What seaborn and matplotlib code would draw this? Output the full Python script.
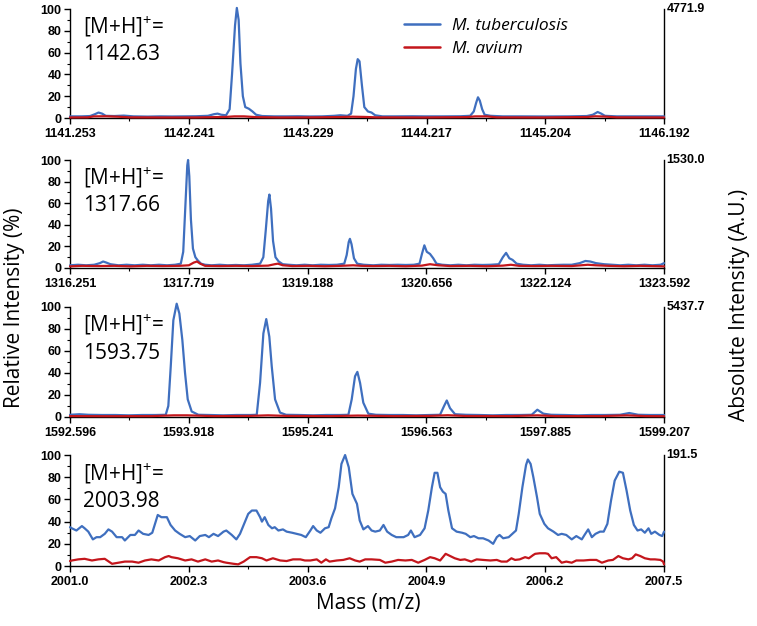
import pandas as pd
import seaborn as sns
import matplotlib.pyplot as plt
from matplotlib.lines import Line2D

# MASS SPECTRA (m/z, relative intensity %)

# panel 1 - [M+H]+ 1142.63
p1_tb_mz = [1141.253, 1141.35, 1141.42, 1141.46, 1141.49, 1141.52, 1141.55, 1141.62, 1141.70, 1141.78,
            1141.90, 1142.00, 1142.10, 1142.20, 1142.30, 1142.40, 1142.45, 1142.48, 1142.51, 1142.55,
            1142.58, 1142.60, 1142.625, 1142.64, 1142.655, 1142.67, 1142.69, 1142.71, 1142.74, 1142.77,
            1142.80, 1142.85, 1142.95, 1143.05, 1143.15, 1143.25, 1143.35, 1143.45, 1143.50, 1143.56,
            1143.59, 1143.61, 1143.63, 1143.645, 1143.66, 1143.68, 1143.70, 1143.73, 1143.76, 1143.79,
            1143.85, 1143.95, 1144.10, 1144.20, 1144.35, 1144.50, 1144.58, 1144.61, 1144.63, 1144.645,
            1144.66, 1144.68, 1144.70, 1144.75, 1144.85, 1145.00, 1145.20, 1145.40, 1145.55, 1145.60,
            1145.64, 1145.67, 1145.70, 1145.80, 1146.00, 1146.192]
p1_tb_int = [1.5, 1.5, 1.8, 3.5, 5, 4, 2, 1.8, 2.2, 1.5,
             1.3, 1.5, 1.4, 1.5, 1.6, 2, 3.5, 4, 3, 2.5,
             8, 40, 85, 101, 90, 50, 20, 10, 8.5, 6,
             3, 1.8, 1.5, 1.5, 1.6, 1.4, 1.5, 2, 2.5, 2,
             4, 20, 45, 54, 52, 30, 10, 6, 5, 2.5,
             1.5, 1.5, 1.6, 1.5, 1.5, 1.6, 2, 6, 14, 19,
             16, 8, 3, 2, 1.5, 1.5, 1.4, 1.5, 1.8, 3,
             5.5, 4, 2, 1.5, 1.5, 1.5]
p1_av_mz = [1141.253, 1141.40, 1141.45, 1141.55, 1141.65, 1141.75, 1142.00, 1142.30, 1142.45, 1142.55,
            1142.62, 1142.70, 1142.80, 1143.00, 1143.30, 1143.50, 1143.60, 1143.70, 1143.80, 1144.20,
            1144.55, 1144.62, 1144.72, 1144.80, 1145.20, 1145.55, 1145.62, 1145.70, 1145.80, 1146.192]
p1_av_int = [0.5, 0.6, 1.5, 1.6, 1.2, 0.6, 0.5, 0.5, 0.8, 1.0,
             1.5, 1.5, 0.8, 0.5, 0.6, 0.9, 1.2, 1.0, 0.6, 0.5,
             0.8, 1.5, 1.5, 0.6, 0.5, 0.9, 1.6, 1.3, 0.6, 0.5]

# panel 2 - [M+H]+ 1317.66
p2_tb_mz = [1316.251, 1316.35, 1316.45, 1316.55, 1316.62, 1316.66, 1316.70, 1316.75, 1316.85, 1316.95,
            1317.05, 1317.15, 1317.25, 1317.35, 1317.45, 1317.55, 1317.62, 1317.65, 1317.675, 1317.70,
            1317.71, 1317.725, 1317.745, 1317.77, 1317.80, 1317.83, 1317.87, 1317.92, 1318.00, 1318.10,
            1318.20, 1318.30, 1318.40, 1318.50, 1318.60, 1318.64, 1318.67, 1318.70, 1318.715, 1318.735,
            1318.76, 1318.79, 1318.83, 1318.88, 1318.95, 1319.05, 1319.15, 1319.25, 1319.35, 1319.45,
            1319.55, 1319.64, 1319.67, 1319.695, 1319.71, 1319.73, 1319.76, 1319.80, 1319.88, 1320.00,
            1320.10, 1320.20, 1320.30, 1320.40, 1320.50, 1320.57, 1320.60, 1320.63, 1320.66, 1320.70,
            1320.74, 1320.78, 1320.85, 1320.95, 1321.05, 1321.15, 1321.25, 1321.35, 1321.45, 1321.55,
            1321.60, 1321.64, 1321.68, 1321.72, 1321.77, 1321.85, 1321.95, 1322.05, 1322.15, 1322.25,
            1322.35, 1322.45, 1322.55, 1322.62, 1322.68, 1322.75, 1322.85, 1322.95, 1323.05, 1323.15,
            1323.25, 1323.35, 1323.45, 1323.55, 1323.592]
p2_tb_int = [2.5, 3, 2.5, 3, 4.5, 6, 5, 3.5, 2.5, 3,
             2.5, 3, 2.5, 3, 2.5, 3, 4, 15, 55, 95,
             100, 85, 45, 18, 10, 7, 4, 3, 2.5, 3,
             2.5, 2.8, 2.5, 3, 4, 10, 35, 62, 68, 55,
             25, 10, 6, 3.5, 3, 2.5, 3, 2.5, 3, 2.8,
             3, 4, 12, 24, 27, 22, 9, 4, 3, 2.5,
             3, 2.8, 3, 2.8, 3, 4, 13, 21, 15, 13,
             9, 4, 3, 2.5, 3, 2.5, 3, 2.8, 3, 3.5,
             10, 14, 9, 7.5, 4, 3, 2.5, 3, 2.5, 2.8,
             3, 3, 4.5, 6.5, 6, 4.5, 3.5, 3, 2.5, 3,
             2.5, 3, 2.5, 3, 4.5]
p2_av_mz = [1316.251, 1316.40, 1316.60, 1316.80, 1317.00, 1317.20, 1317.40, 1317.60, 1317.72, 1317.78,
            1317.82, 1317.86, 1317.92, 1318.10, 1318.30, 1318.50, 1318.70, 1318.78, 1318.82, 1318.88,
            1319.00, 1319.20, 1319.40, 1319.60, 1319.75, 1319.85, 1320.00, 1320.20, 1320.40, 1320.60,
            1320.70, 1320.80, 1320.95, 1321.20, 1321.40, 1321.60, 1321.70, 1321.80, 1322.00, 1322.20,
            1322.45, 1322.65, 1322.75, 1322.90, 1323.10, 1323.30, 1323.592]
p2_av_int = [1.5, 2, 1.8, 2, 1.5, 2, 1.8, 2, 2.5, 5,
             6, 4, 2, 1.8, 2, 1.8, 2.2, 3.5, 4, 2.5,
             1.8, 2, 1.6, 2, 2.5, 2, 1.8, 2, 1.6, 2.2,
             3.5, 2.5, 1.8, 2, 1.6, 2.2, 3, 2, 1.8, 2,
             1.8, 3, 2.5, 2, 1.6, 2, 1.5]

# panel 3 - [M+H]+ 1593.75
p3_tb_mz = [1592.596, 1592.70, 1592.80, 1592.95, 1593.10, 1593.25, 1593.40, 1593.55, 1593.661, 1593.690,
            1593.717, 1593.746, 1593.783, 1593.813, 1593.846, 1593.876, 1593.906, 1593.950, 1594.024, 1594.15,
            1594.30, 1594.45, 1594.60, 1594.674, 1594.711, 1594.748, 1594.780, 1594.814, 1594.841, 1594.878,
            1594.933, 1595.00, 1595.15, 1595.30, 1595.45, 1595.60, 1595.694, 1595.731, 1595.768, 1595.794,
            1595.824, 1595.860, 1595.916, 1596.00, 1596.15, 1596.30, 1596.45, 1596.60, 1596.714, 1596.759,
            1596.789, 1596.825, 1596.881, 1597.00, 1597.15, 1597.30, 1597.45, 1597.60, 1597.734, 1597.797,
            1597.864, 1597.95, 1598.10, 1598.25, 1598.40, 1598.55, 1598.717, 1598.82, 1598.92, 1599.05,
            1599.207]
p3_tb_int = [2, 2.5, 2, 1.8, 1.8, 1.5, 1.8, 1.8, 2, 10,
             46, 88, 103, 94, 70, 40, 16, 5, 2, 1.8,
             1.5, 1.8, 1.8, 2, 31, 76, 89, 73, 46, 16,
             4, 2, 1.8, 1.5, 1.8, 1.8, 2, 16, 37, 41,
             31, 13, 3, 2, 1.8, 1.8, 1.5, 1.8, 2, 10,
             15, 8, 2.5, 2, 1.8, 1.5, 1.8, 1.8, 2, 6.6,
             3, 2, 1.8, 1.5, 1.8, 1.8, 2, 3.6, 2, 1.8,
             1.8]
p3_av_mz = [1592.596, 1593.00, 1593.50, 1593.75, 1593.90, 1594.20, 1594.60, 1594.80, 1595.00, 1595.50,
            1595.80, 1596.20, 1596.60, 1596.80, 1597.00, 1597.50, 1597.80, 1598.00, 1598.50, 1598.80,
            1599.00, 1599.207]
p3_av_int = [0.8, 0.7, 0.8, 1.5, 1.5, 0.8, 1.0, 1.5, 1.0, 0.8,
             1.3, 0.8, 1.0, 1.6, 0.9, 0.8, 1.5, 0.8, 0.8, 1.5,
             0.8, 0.7]

# panel 4 - [M+H]+ 2003.98
p4_tb_mz = [2001.00, 2001.02, 2001.07, 2001.13, 2001.16, 2001.20, 2001.25, 2001.29, 2001.33, 2001.38,
            2001.42, 2001.46, 2001.51, 2001.57, 2001.60, 2001.66, 2001.71, 2001.75, 2001.80, 2001.86,
            2001.90, 2001.96, 2002.00, 2002.06, 2002.10, 2002.15, 2002.20, 2002.26, 2002.31, 2002.37,
            2002.42, 2002.48, 2002.52, 2002.57, 2002.62, 2002.68, 2002.71, 2002.77, 2002.82, 2002.86,
            2002.90, 2002.95, 2002.99, 2003.04, 2003.08, 2003.10, 2003.13, 2003.17, 2003.21, 2003.24,
            2003.28, 2003.33, 2003.37, 2003.43, 2003.48, 2003.53, 2003.58, 2003.63, 2003.66, 2003.70,
            2003.74, 2003.79, 2003.83, 2003.86, 2003.90, 2003.94, 2003.97, 2004.01, 2004.05, 2004.09,
            2004.14, 2004.17, 2004.21, 2004.26, 2004.30, 2004.34, 2004.39, 2004.43, 2004.47, 2004.52,
            2004.57, 2004.65, 2004.70, 2004.73, 2004.77, 2004.83, 2004.88, 2004.92, 2004.96, 2004.99,
            2005.02, 2005.05, 2005.08, 2005.11, 2005.14, 2005.18, 2005.23, 2005.29, 2005.33, 2005.38,
            2005.42, 2005.47, 2005.52, 2005.58, 2005.63, 2005.67, 2005.70, 2005.74, 2005.80, 2005.84,
            2005.88, 2005.91, 2005.95, 2005.99, 2006.01, 2006.04, 2006.07, 2006.11, 2006.14, 2006.19,
            2006.23, 2006.29, 2006.34, 2006.38, 2006.43, 2006.49, 2006.54, 2006.60, 2006.63, 2006.67,
            2006.71, 2006.75, 2006.80, 2006.84, 2006.88, 2006.92, 2006.96, 2007.01, 2007.05, 2007.09,
            2007.13, 2007.17, 2007.21, 2007.25, 2007.29, 2007.33, 2007.36, 2007.40, 2007.45, 2007.48,
            2007.50]
p4_tb_int = [35, 34, 32, 36, 34, 31, 24, 26, 26, 29,
             33, 31, 26, 26, 23, 28, 28, 32, 29, 28,
             30, 46, 44, 44, 37, 32, 29, 26, 27, 23,
             27, 28, 26, 29, 27, 31, 32, 28, 24, 29,
             37, 47, 50, 50, 44, 40, 44, 37, 34, 35,
             32, 33, 31, 30, 29, 28, 26, 32, 36, 32,
             30, 34, 35, 43, 52, 71, 92, 100, 89, 65,
             56, 41, 33, 36, 32, 31, 32, 37, 31, 28,
             26, 26, 28, 32, 26, 28, 34, 50, 71, 84,
             84, 71, 67, 65, 50, 34, 31, 30, 29, 26,
             27, 25, 25, 23, 20, 26, 28, 25, 26, 29,
             32, 47, 71, 91, 96, 92, 80, 62, 47, 38,
             34, 31, 28, 29, 28, 24, 27, 24, 28, 33,
             26, 29, 31, 31, 38, 59, 77, 85, 84, 68,
             50, 37, 32, 33, 30, 34, 29, 31, 28, 27,
             31]
p4_av_mz = [2001.00, 2001.02, 2001.09, 2001.16, 2001.24, 2001.31, 2001.38, 2001.46, 2001.53, 2001.60,
            2001.68, 2001.75, 2001.82, 2001.89, 2001.97, 2002.04, 2002.08, 2002.11, 2002.18, 2002.26,
            2002.33, 2002.40, 2002.48, 2002.55, 2002.62, 2002.68, 2002.71, 2002.79, 2002.84, 2002.90,
            2002.97, 2003.04, 2003.10, 2003.15, 2003.22, 2003.30, 2003.37, 2003.44, 2003.52, 2003.57,
            2003.63, 2003.70, 2003.75, 2003.80, 2003.84, 2003.92, 2003.99, 2004.06, 2004.12, 2004.17,
            2004.23, 2004.30, 2004.39, 2004.45, 2004.52, 2004.59, 2004.67, 2004.74, 2004.81, 2004.88,
            2004.94, 2004.99, 2005.05, 2005.11, 2005.16, 2005.21, 2005.27, 2005.32, 2005.39, 2005.45,
            2005.52, 2005.60, 2005.67, 2005.72, 2005.78, 2005.83, 2005.87, 2005.92, 2005.98, 2006.02,
            2006.07, 2006.09, 2006.14, 2006.20, 2006.23, 2006.27, 2006.32, 2006.38, 2006.43, 2006.49,
            2006.54, 2006.62, 2006.69, 2006.76, 2006.82, 2006.89, 2006.94, 2007.00, 2007.05, 2007.11,
            2007.15, 2007.19, 2007.24, 2007.29, 2007.35, 2007.40, 2007.46, 2007.49, 2007.50]
p4_av_int = [4.5, 5, 6, 6.5, 5, 6, 6.5, 2, 3, 4,
             4, 3, 5, 6, 5, 8, 9, 8, 7, 5,
             6, 4, 6, 4, 5, 3.5, 3, 2, 1.5, 4,
             8, 8, 7, 5, 7, 5, 4.5, 6, 6, 5,
             5, 6, 3, 6, 4, 5, 5.5, 7, 5, 4,
             6, 6, 5.5, 3, 4, 5.5, 5, 5.5, 3, 5.5,
             8, 7, 5, 11, 9, 7, 5.5, 6, 4, 6,
             5.5, 5, 5.5, 4, 4, 7, 5.5, 6, 8, 7,
             10, 11, 11.5, 11.5, 11, 7, 8, 3, 4, 3,
             5, 5, 5.5, 5.5, 3, 5, 5.5, 9, 7, 6,
             7, 10.5, 9, 7, 6, 6, 5.5, 4, 1.5]

# ETIQUETAS
ion_labels = ['1142.63', '1317.66', '1593.75', '2003.98']
abs_labels = ['4771.9', '1530.0', '5437.7', '191.5']
xtick_labels = [
    ['1141.253', '1142.241', '1143.229', '1144.217', '1145.204', '1146.192'],
    ['1316.251', '1317.719', '1319.188', '1320.656', '1322.124', '1323.592'],
    ['1592.596', '1593.918', '1595.241', '1596.563', '1597.885', '1599.207'],
    ['2001.0', '2002.3', '2003.6', '2004.9', '2006.2', '2007.5'],
]
ytick_labels = ['0', '20', '40', '60', '80', '100']
series_names = ['M. tuberculosis', 'M. avium']

tb_color = '#3f6fbf'
av_color = '#c4161c'

sns.set_style('ticks')
plt.rcParams['font.family'] = ['Open Sans', 'DejaVu Sans']
plt.rcParams['mathtext.fontset'] = 'custom'
plt.rcParams['mathtext.rm'] = 'Open Sans'
plt.rcParams['mathtext.default'] = 'regular'
plt.rcParams['text.color'] = 'black'
plt.rcParams['axes.labelcolor'] = 'black'
plt.rcParams['xtick.color'] = 'black'
plt.rcParams['ytick.color'] = 'black'

panels = [
    (p1_tb_mz, p1_tb_int, p1_av_mz, p1_av_int),
    (p2_tb_mz, p2_tb_int, p2_av_mz, p2_av_int),
    (p3_tb_mz, p3_tb_int, p3_av_mz, p3_av_int),
    (p4_tb_mz, p4_tb_int, p4_av_mz, p4_av_int),
]
# posicion de cada panel (left, bottom, width, height) en fraccion de figura
ax_pos = [
    (0.0925, 0.8115, 0.7847, 0.1741),
    (0.0925, 0.5719, 0.7847, 0.1725),
    (0.0925, 0.3339, 0.7847, 0.1757),
    (0.0925, 0.0958, 0.7847, 0.1773),
]

tick_font = dict(fontfamily='Liberation Sans', fontweight='bold', fontsize=9, color='black')

fig = plt.figure(figsize=(7.57, 6.26), dpi=100)

for i, (tb_mz, tb_int, av_mz, av_int) in enumerate(panels):
    ax = fig.add_axes(ax_pos[i])
    df_tb = pd.DataFrame({'mz': tb_mz, 'intensity': tb_int})
    df_av = pd.DataFrame({'mz': av_mz, 'intensity': av_int})
    sns.lineplot(data=df_tb, x='mz', y='intensity', ax=ax, color=tb_color, lw=1.6,
                 estimator=None, sort=False, clip_on=False, zorder=3)
    sns.lineplot(data=df_av, x='mz', y='intensity', ax=ax, color=av_color, lw=1.6,
                 estimator=None, sort=False, clip_on=False, zorder=4)

    xt = [float(t) for t in xtick_labels[i]]
    ax.set_xlim(xt[0], xt[-1])
    ax.set_ylim(0, 100)
    ax.set_xticks(xt)
    ax.set_xticklabels(xtick_labels[i], **tick_font)
    ax.set_xticks([(a + b) / 2 for a, b in zip(xt[:-1], xt[1:])], minor=True)
    ax.set_yticks([float(t) for t in ytick_labels])
    ax.set_yticklabels(ytick_labels, **tick_font)
    ax.set_yticks([10, 30, 50, 70, 90], minor=True)
    ax.tick_params(axis='both', which='major', direction='out', length=4, width=1, pad=2, colors='black')
    ax.tick_params(axis='both', which='minor', direction='out', length=2.5, width=0.8, colors='black')
    ax.tick_params(axis='x', pad=3)
    ax.set_xlabel('')
    ax.set_ylabel('')

    ax.spines['top'].set_visible(False)
    for s in ['left', 'bottom', 'right']:
        ax.spines[s].set_color('black')
        ax.spines[s].set_linewidth(1.0)

    ax.text(1.004, 1.0, abs_labels[i], transform=ax.transAxes, ha='left', va='center', **tick_font)

    ax.text(0.022, 0.835, r'[M+H]$^{+}$=', transform=ax.transAxes, ha='left', va='center', fontsize=15)
    ax.text(0.022, 0.58, ion_labels[i], transform=ax.transAxes, ha='left', va='center', fontsize=15)

    if i == 0:
        handles = [Line2D([], [], color=tb_color, lw=1.8), Line2D([], [], color=av_color, lw=1.8)]
        ax.legend(handles, series_names, loc='upper left', bbox_to_anchor=(0.562, 0.92),
                  frameon=False, borderpad=0, borderaxespad=0, handlelength=2.1,
                  handletextpad=0.7, labelspacing=0.4,
                  prop={'family': 'Open Sans', 'style': 'italic', 'size': 12.5})

fig.text(15 / 757, 1 - 308 / 626, 'Relative Intensity (%)', rotation=90, ha='center', va='center', fontsize=15)
fig.text(740 / 757, 1 - 305 / 626, 'Absolute Intensity (A.U.)', rotation=90, ha='center', va='center', fontsize=15)
fig.text(368 / 757, 1 - 603 / 626, 'Mass (m/z)', ha='center', va='center', fontsize=15)

plt.savefig('out.png', dpi=100)
